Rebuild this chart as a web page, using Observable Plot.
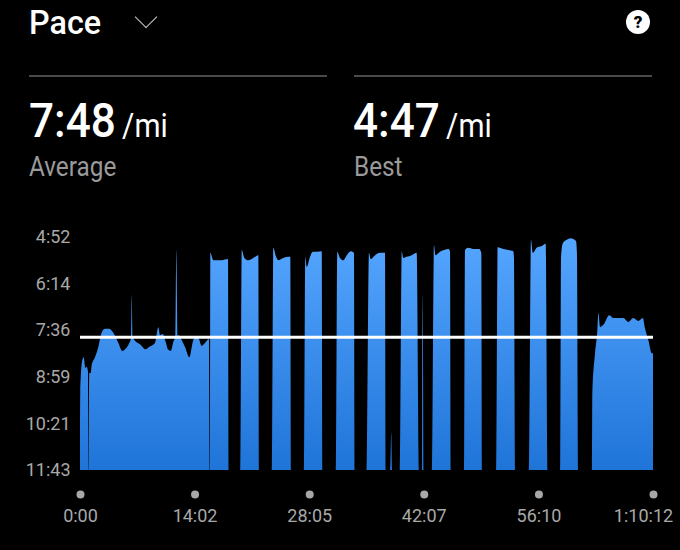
<!DOCTYPE html>
<html><head><meta charset="utf-8">
<script src="https://cdn.jsdelivr.net/npm/d3@7"></script>
<script src="https://cdn.jsdelivr.net/npm/@observablehq/plot@0.6"></script>
<style>
html,body{margin:0;padding:0;background:#000;font-family:Roboto,sans-serif;overflow:hidden}
#head{position:relative;height:220px;width:680px;color:#fff}
#head>*{position:absolute;white-space:nowrap;transform-origin:0 0}
.rule{height:2px;background:#4a4a4a;top:75px;width:298px}
.big{font-size:49px;font-weight:500;top:92px;line-height:58px;transform:scaleX(.9)}
.big small{font-size:33px;font-weight:400;margin-left:7px}
.lab{font-size:27px;color:#9a9a9a;top:151px;line-height:32px;transform:scaleX(.9)}
#title{left:29px;top:3px;font-size:33px;font-weight:500;line-height:40px;transform:scaleX(.98)}
#chev{left:138px;top:9px;width:15px;height:15px;border-right:1.5px solid #c8c8c8;border-bottom:1.5px solid #c8c8c8;transform:rotate(45deg);transform-origin:50% 50%}
#help{left:626px;top:10px;width:24px;height:24px;border-radius:50%;background:#fff;color:#000;font-size:17px;font-weight:900;text-align:center;line-height:24px}
svg{display:block}
</style></head><body>
<div id="head">
<div id="title">Pace</div><div id="chev"></div><div id="help">?</div>
<div class="rule" style="left:29px"></div><div class="rule" style="left:354px"></div>
<div class="big" style="left:29px">7:48<small>/mi</small></div>
<div class="big" style="left:353px">4:47<small>/mi</small></div>
<div class="lab" style="left:29px">Average</div>
<div class="lab" style="left:354px">Best</div>
</div>
<div id="chart"></div>
<script>
const seconds = [0,2,17,27,39,49,59,60,63,68,79,86,110,135,160,184,213,245,282,311,331,362,375,380,387,404,441,483,507,551,576,588,608,630,649,667,686,701,708,717,723,748,772,804,829,845,870,895,919,948,952,956,958,980,1042,1088,1093,
1178,1189,1208,1237,1274,1311,1316,
1411,1421,1441,1458,1495,1532,1546,1553,
1647,1656,1667,1691,1711,1740,1777,1781,
1882,1891,1911,1936,1961,1990,2014,2019,
2108,2124,2137,2169,2205,2242,2249,
2279,2288,2294,
2352,2365,2376,2401,2438,2475,2492,
2514,2517,2521,2528,
2588,2602,2613,2646,2676,2710,2720,2727,
2823,2830,2854,2891,2935,2950,2955,
3060,3070,3112,3149,3185,3190,3198,
3301,3315,3328,3357,3394,3423,3438,
3529,3536,3549,3578,3607,3646,3653,3661,
3764,3766,3786,3803,3810,3823,3847,3891,3921,3958,3994,4031,4067,4104,4137,4153,4178,4203,4212];
const pace = [703,567,509,504,523,521,530,703,703,532,532,518,504,486,460,454,454,461,479,493,490,479,470,394,468,475,481,490,486,479,451,465,463,477,491,493,477,468,315,468,465,474,486,504,477,468,470,484,479,472,703,703,320,333,333,331,703,
703,315,329,333,329,324,703,
703,311,327,333,329,327,327,703,
703,327,345,327,318,318,317,703,
703,318,329,333,324,317,320,703,
703,320,331,324,320,320,703,
703,636,703,
703,317,329,327,324,320,703,
703,394,468,703,
703,306,324,318,315,313,318,703,
703,315,311,313,313,320,703,
703,310,313,315,317,329,703,
703,297,320,311,308,304,703,
703,327,303,297,294,299,320,703,
703,567,497,456,426,451,447,430,435,435,435,442,435,440,435,453,474,497,497];
const paceTicks = [292,374,456,539,621,703];
const paceLabels = ["4:52","6:14","7:36","8:59","10:21","11:43"];
const timeTicks = [0,842,1685,2527,3370,4212];
const timeLabels = ["0:00","14:02","28:05","42:07","56:10","1:10:12"];
const averagePace = 468;
const rows = seconds.map((t,i)=>({t,p:pace[i]}));
const gradient = () => {
  const s = d3.create("svg:g");
  const g = s.append("defs").append("linearGradient").attr("id","blue")
    .attr("gradientUnits","userSpaceOnUse").attr("x1",0).attr("x2",0).attr("y1",17).attr("y2",250);
  g.append("stop").attr("offset","0%").attr("stop-color","#55a6ff");
  g.append("stop").attr("offset","100%").attr("stop-color","#1f74d8");
  return s.node();
};
const timeLabel = d => timeLabels[timeTicks.indexOf(d)];
const chart = Plot.plot({
  width:680,height:330,marginLeft:80,marginRight:27,marginTop:17,marginBottom:80,
  style:{background:"#000",color:"#a8a8a8",fontFamily:"Roboto,sans-serif",fontSize:"18px",overflow:"visible"},
  x:{type:"linear",domain:[0,4212]},
  y:{type:"linear",domain:[703,292]},
  marks:[
    gradient,
    Plot.areaY(rows,{x:"t",y1:()=>703,y2:"p",fill:"url(#blue)",curve:"monotone-x"}),
    Plot.ruleY([averagePace],{x1:0,x2:4212,stroke:"#fff",strokeWidth:3}),
    Plot.dot(timeTicks,{x:d=>d,y:()=>703,dy:24,r:4,fill:"#a8a8a8",stroke:null}),
    Plot.axisY({ticks:paceTicks,tickFormat:d=>paceLabels[paceTicks.indexOf(d)],tickSize:0,tickPadding:10,label:null,fontSize:18,color:"#a8a8a8"}),
    Plot.axisX({ticks:timeTicks.slice(0,5),tickFormat:timeLabel,tickSize:0,tickPadding:39,label:null,fontSize:18,color:"#a8a8a8"}),
    Plot.axisX({ticks:timeTicks.slice(5),tickFormat:timeLabel,tickSize:0,tickPadding:39,label:null,fontSize:18,color:"#a8a8a8",dx:-10})
  ]
});
document.getElementById("chart").appendChild(chart);
</script>
</body></html>
